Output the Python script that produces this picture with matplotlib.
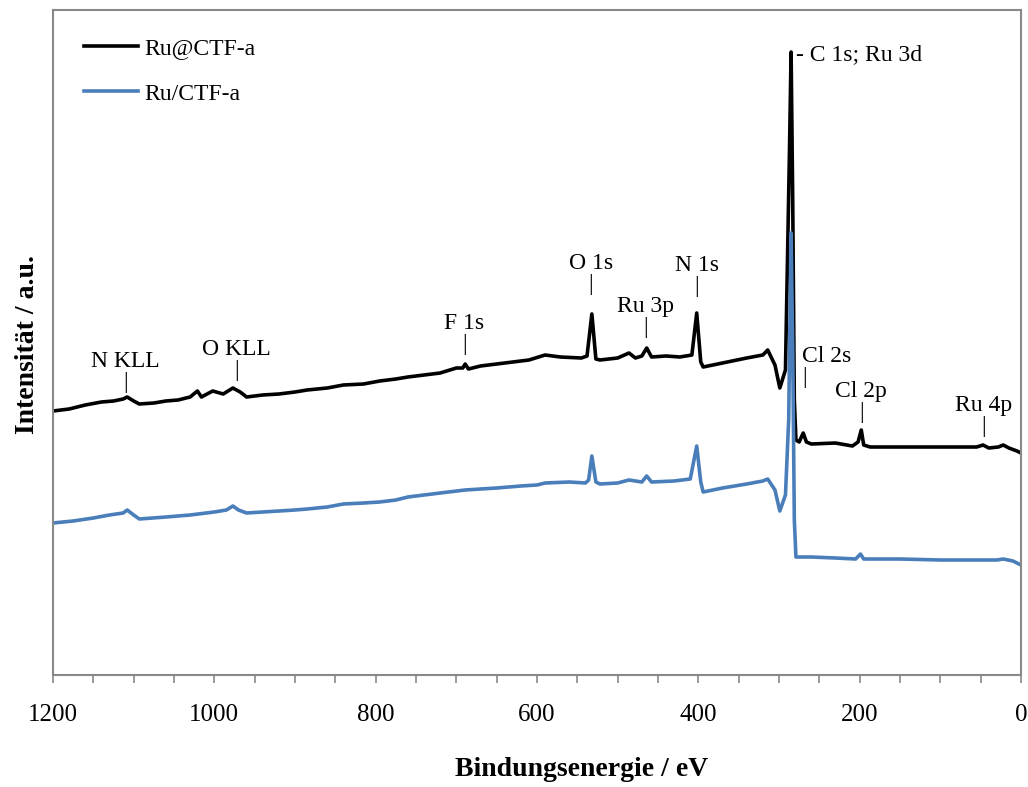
import matplotlib
matplotlib.use("Agg")
import matplotlib.pyplot as plt
from matplotlib.ticker import MultipleLocator

# ================================
# Data (intensity in a.u.)
# ================================
ru_at_energy = [1200, 1180, 1160, 1140, 1125, 1113, 1108, 1100, 1093, 1075, 1060, 1045,
                1030, 1021, 1016, 1002, 989, 977, 968, 960, 940, 920, 900, 885, 860,
                840, 815, 795, 775, 760, 740, 720, 700, 692, 689, 685, 670, 650, 630,
                610, 590, 571, 545, 538, 532, 527, 522, 500, 486, 478, 470, 464, 458,
                440, 423, 408, 402, 397, 394, 370, 340, 320, 314, 305, 299, 292, 287,
                285, 283, 281, 279, 275, 270, 266, 260, 230, 209, 202, 198, 195, 187,
                150, 100, 55, 47, 40, 28, 22, 15, 5, 0]
ru_at_intensity = [264, 266, 270, 273, 274, 276, 278, 274, 271, 272, 274, 275,
                   278, 284, 278, 284, 281, 287, 283, 278, 280, 281, 283, 285, 287,
                   290, 291, 294, 296, 298, 300, 302, 307, 307, 311, 306, 309, 311, 313,
                   315, 320, 318, 317, 319, 361, 316, 315, 317, 322, 317, 319, 327, 318,
                   319, 318, 320, 362, 313, 308, 312, 317, 320, 325, 310, 287, 305, 525,
                   623, 475, 275, 235, 233, 242, 233, 231, 232, 229, 233, 245, 230, 228,
                   228, 228, 228, 230, 227, 228, 230, 227, 224, 222]

ru_on_energy = [1200, 1175, 1150, 1130, 1113, 1108, 1100, 1093, 1060, 1030, 1000, 985,
                977, 970, 960, 940, 920, 900, 885, 860, 840, 815, 795, 775, 760, 740,
                720, 689, 670, 650, 620, 600, 590, 560, 540, 536, 532, 527, 522, 500,
                486, 470, 464, 458, 430, 410, 402, 397, 394, 370, 340, 320, 314, 305,
                299, 292, 288, 285, 283, 281, 279, 260, 230, 205, 199, 195, 150, 100,
                47, 30, 22, 10, 0]
ru_on_intensity = [152, 154, 157, 160, 162, 165, 160, 156, 158, 160, 163, 165,
                   169, 165, 162, 163, 164, 165, 166, 168, 171, 172, 173, 175, 178, 180,
                   182, 185, 186, 187, 189, 190, 192, 193, 192, 195, 219, 193, 191, 192,
                   195, 193, 199, 193, 194, 196, 229, 193, 183, 187, 191, 194, 196, 185,
                   164, 180, 255, 442, 325, 155, 118, 118, 117, 116, 121, 116, 116, 115,
                   115, 115, 116, 114, 110]

# peak labels
peak_labels = ["N KLL", "O KLL", "F 1s", "O 1s", "Ru 3p", "N 1s", "Cl 2p", "Ru 4p"]
peak_energy = [1110, 973, 690, 533, 465, 402, 198, 47]
label_base = [282, 294, 320, 380, 337, 378, 252, 238]

plt.rcParams['font.family'] = ['Liberation Serif', 'DejaVu Serif']
FS = 17
GRAY = '#898989'

fig = plt.figure(figsize=(10.28, 7.87), dpi=100)
ax = fig.add_axes([53 / 1028, 1 - 675 / 787, 968 / 1028, 665 / 787])

ax.plot(ru_at_energy, ru_at_intensity, color='black', lw=2.6, label='Ru@CTF-a')
ax.plot(ru_on_energy, ru_on_intensity, color='#4a7ebb', lw=2.6, label='Ru/CTF-a')

ax.set_xlim(1200, 0)
ax.set_ylim(0, 665)

# ================================
# Peak annotations
# ================================
for name, e, b in zip(peak_labels, peak_energy, label_base):
    ax.text(e, b, name + "\n|", ha='center', va='bottom', multialignment='center',
            fontsize=FS, linespacing=1.0)
ax.text(271, 287, "Cl 2s\n|", ha='left', va='bottom', multialignment='left',
        fontsize=FS, linespacing=1.0)
ax.text(279, 620, "- C 1s; Ru 3d", ha='left', va='center', fontsize=FS)

# ================================
# Axes styling
# ================================
for side in ['left', 'right', 'top', 'bottom']:
    ax.spines[side].set_color(GRAY)
    ax.spines[side].set_linewidth(1.5)
ax.set_yticks([])
ax.xaxis.set_major_locator(MultipleLocator(200))
ax.xaxis.set_minor_locator(MultipleLocator(50))
ax.tick_params(axis='x', which='both', direction='out', color=GRAY, width=1.2, length=6)
ax.tick_params(axis='x', which='major', labelsize=18, pad=15)

fig.text(582 / 1028, 1 - 769 / 787, "Bindungsenergie / eV", ha='center', va='center',
         fontsize=20, fontweight='bold')
fig.text(28 / 1028, 1 - 345 / 787, "Intensität / a.u.", ha='center', va='center',
         fontsize=20, fontweight='bold', rotation=90)

ax.legend(loc='upper left', bbox_to_anchor=(84 / 1028, 1 - 38 / 787),
          bbox_transform=fig.transFigure, frameon=False, fontsize=FS,
          borderpad=0, borderaxespad=0, handlelength=2.3, handletextpad=0.25,
          labelspacing=1.0)

plt.savefig("out.png", dpi=100)
print("saved out.png")
